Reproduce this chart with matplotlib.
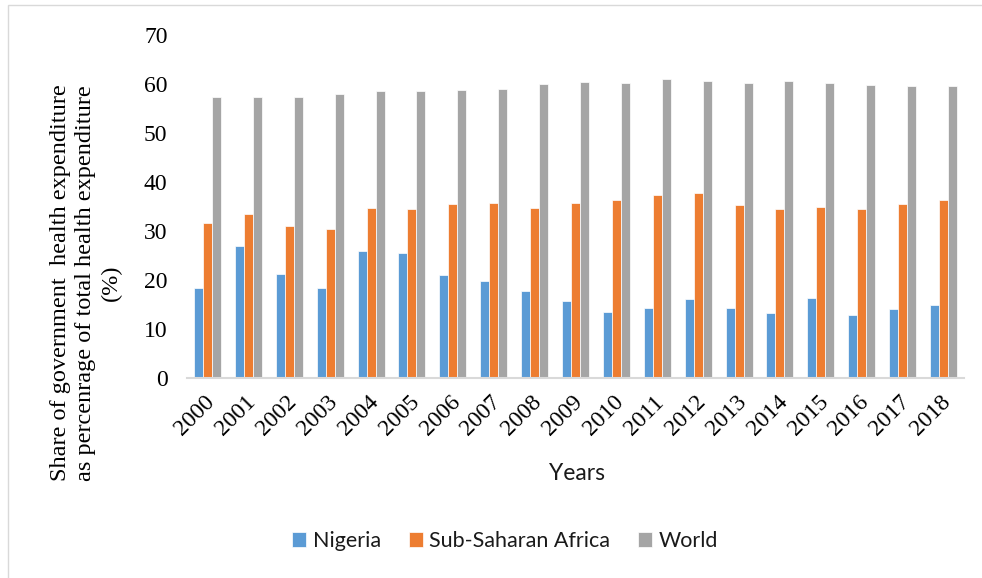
import numpy as np
import matplotlib
matplotlib.use('Agg')
import matplotlib.pyplot as plt
from matplotlib.patches import Rectangle

# Government health expenditure as share of total health expenditure (%)
years = ['2000', '2001', '2002', '2003', '2004', '2005', '2006', '2007', '2008', '2009',
         '2010', '2011', '2012', '2013', '2014', '2015', '2016', '2017', '2018']
nigeria = [18.3, 26.9, 21.3, 18.4, 26.0, 25.5, 21.1, 19.8, 17.8, 15.8,
           13.5, 14.3, 16.1, 14.2, 13.3, 16.4, 12.9, 14.1, 14.8]
ssa = [31.7, 33.5, 31.0, 30.4, 34.7, 34.5, 35.6, 35.7, 34.7, 35.7,
       36.4, 37.4, 37.8, 35.4, 34.5, 35.0, 34.5, 35.5, 36.4]
world = [57.4, 57.4, 57.4, 58.0, 58.5, 58.5, 58.8, 59.0, 59.9, 60.5,
         60.3, 61.0, 60.6, 60.3, 60.7, 60.2, 59.8, 59.6, 59.6]

series_names = ['Nigeria', 'Sub-Saharan Africa', 'World']
colors = ['#5B9BD5', '#ED7D31', '#A5A5A5']

serif = 'Liberation Serif'
sans = 'Lato'

fig = plt.figure(figsize=(9.82, 5.78), dpi=100)
ax = fig.add_axes([187 / 982, 1 - 378 / 578, (964 - 187) / 982, (378 - 35) / 578])

x = np.arange(len(years))
w = 0.22
for i, (vals, name, c) in enumerate(zip([nigeria, ssa, world], series_names, colors)):
    ax.bar(x + (i - 1) * w, vals, width=w, color=c, label=name,
           edgecolor='white', linewidth=0.5)

ax.set_xlim(-0.5, len(years) - 0.5)
ax.set_ylim(0, 70)
ax.set_yticks(range(0, 71, 10))
ax.set_xticks(x + 0.1)
ax.set_xticklabels(years, rotation=45, ha='right', va='center',
                   rotation_mode='anchor', fontfamily=serif, fontsize=17)
for lbl in ax.get_yticklabels():
    lbl.set_fontfamily(serif)
    lbl.set_fontsize(17)
ax.tick_params(axis='y', length=0, pad=14)
ax.tick_params(axis='x', length=0, pad=15)

for s in ['top', 'right', 'left']:
    ax.spines[s].set_visible(False)
ax.spines['bottom'].set_color('#D9D9D9')
ax.spines['bottom'].set_linewidth(1.5)

fig.text(86 / 982, 1 - 283 / 578,
         'Share of government  health expenditure\n'
         'as percenrage of total health expenditure\n(%)',
         rotation=90, ha='center', va='center', multialignment='center',
         fontfamily=serif, fontsize=17.5, linespacing=1.3)

fig.text(577 / 982, 1 - 473 / 578, 'Years', ha='center', va='center',
         fontfamily=sans, fontsize=16.5, color='#1a1a1a')

leg = fig.legend(loc='center', bbox_to_anchor=(505 / 982, 1 - 541 / 578), ncol=3,
                 frameon=False, prop={'family': sans, 'size': 15.5},
                 handlelength=0.65, handleheight=0.65, handletextpad=0.3,
                 columnspacing=1.3)
for t in leg.get_texts():
    t.set_color('#1a1a1a')

# light chart-area border
fig.patches.append(Rectangle((8 / 982, -0.2), 1.2, 1.2 - 5 / 578,
                             transform=fig.transFigure, fill=False,
                             edgecolor='#D9D9D9', linewidth=1.0))

fig.savefig('out.png', dpi=100)
